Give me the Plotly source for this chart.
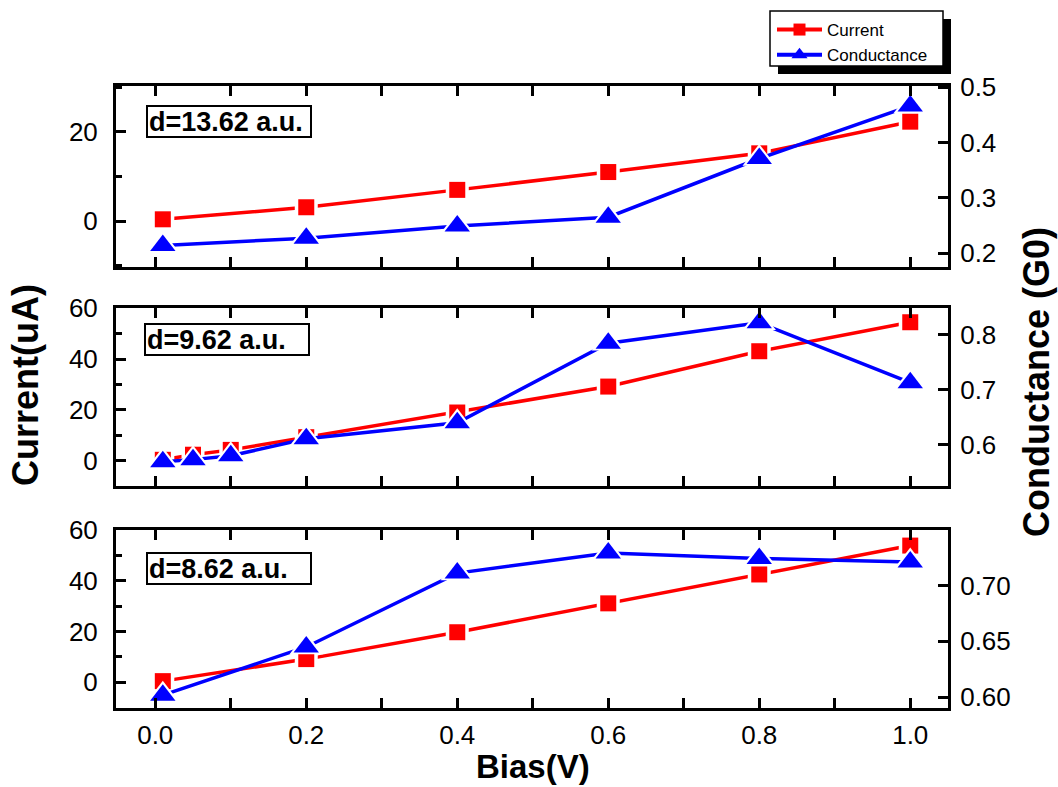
import plotly.graph_objects as go

# Bias sweep results for three electrode separations
bias_a = [0.01, 0.2, 0.4, 0.6, 0.8, 1.0]
current_a = [0.4, 3.1, 7.0, 11.0, 15.2, 22.3]
cond_a = [0.214, 0.227, 0.249, 0.265, 0.371, 0.466]

bias_b = [0.01, 0.05, 0.1, 0.2, 0.4, 0.6, 0.8, 1.0]
current_b = [0.4, 2.4, 4.3, 9.3, 19.0, 29.2, 43.1, 54.5]
cond_b = [0.569, 0.573, 0.580, 0.611, 0.640, 0.785, 0.822, 0.713]

bias_c = [0.01, 0.2, 0.4, 0.6, 0.8, 1.0]
current_c = [0.4, 9.1, 19.7, 31.1, 42.5, 53.9]
cond_c = [0.602, 0.645, 0.711, 0.729, 0.724, 0.721]

panel_labels = ["d=13.62 a.u.", "d=9.62 a.u.", "d=8.62 a.u."]

W, H = 1058, 787
RED, BLUE = "#ff0000", "#0000ff"
FONT = "Liberation Sans"


def px(x):
    return x / W


def py(y):
    return 1 - y / H


# panel frames in pixels (left, right, top, bottom)
X0, X1 = 116, 948
panels = [(86, 267), (308, 486), (530, 708)]

fig = go.Figure()


def add_series(xs, ys, color, symbol, size, yref_name, xref_name):
    # connecting line
    fig.add_trace(go.Scatter(x=xs, y=ys, mode="lines", xaxis=xref_name, yaxis=yref_name,
                             line=dict(color=color, width=3.5), showlegend=False, hoverinfo="skip"))
    # white halo around each symbol leaves a gap in the line
    fig.add_trace(go.Scatter(x=xs, y=ys, mode="markers", xaxis=xref_name, yaxis=yref_name,
                             marker=dict(symbol=symbol, size=size + 7, color="white"),
                             showlegend=False, hoverinfo="skip"))
    fig.add_trace(go.Scatter(x=xs, y=ys, mode="markers", xaxis=xref_name, yaxis=yref_name,
                             marker=dict(symbol=symbol, size=size, color=color),
                             showlegend=False))


data = [
    (bias_a, current_a, cond_a),
    (bias_b, current_b, cond_b),
    (bias_c, current_c, cond_c),
]

for i, (bx, cur, cond) in enumerate(data):
    xa = "x" if i == 0 else f"x{i + 1}"
    yl = "y" if i == 0 else f"y{2 * i + 1}"
    yr = f"y{2 * i + 2}"
    add_series(bx, cur, RED, "square", 16, yl, xa)
    add_series(bx, cond, BLUE, "triangle-up", 22, yr, xa)

# legend entries
fig.add_trace(go.Scatter(x=[None], y=[None], mode="lines+markers", name="Current",
                         line=dict(color=RED, width=4),
                         marker=dict(symbol="square", size=12, color=RED)))
fig.add_trace(go.Scatter(x=[None], y=[None], mode="lines+markers", name="Conductance",
                         line=dict(color=BLUE, width=4),
                         marker=dict(symbol="triangle-up", size=14, color=BLUE)))

tickfont = dict(family=FONT, size=26, color="black")
common_axis = dict(showline=True, linewidth=3, linecolor="black", ticks="inside",
                   tickwidth=3, tickcolor="black", ticklen=9, showgrid=False,
                   zeroline=False, tickfont=tickfont, automargin=False)

left_ranges = [[-10.3, 30.3], [-9.9, 60.1], [-10.2, 60.05]]
right_ranges = [[0.175, 0.502], [0.525, 0.849], [0.5905, 0.7495]]
right_dtick = [0.1, 0.1, 0.05]
right_fmt = [".1f", ".1f", ".2f"]

layout = dict(
    template="none",
    width=W, height=H, margin=dict(l=0, r=0, t=0, b=0, pad=0, autoexpand=False),
    paper_bgcolor="white", plot_bgcolor="white",
    font=dict(family=FONT, color="black"),
)

for i, (top, bot) in enumerate(panels):
    ydom = [py(bot), py(top)]
    xkey = "xaxis" if i == 0 else f"xaxis{i + 1}"
    ylkey = "yaxis" if i == 0 else f"yaxis{2 * i + 1}"
    yrkey = f"yaxis{2 * i + 2}"
    yl_id = "y" if i == 0 else f"y{2 * i + 1}"
    x_id = "x" if i == 0 else f"x{i + 1}"
    layout[xkey] = dict(common_axis, domain=[px(X0), px(X1)], anchor=yl_id,
                        range=[-0.052, 1.050], tick0=0, dtick=0.2, tickformat=".1f",
                        mirror="allticks", ticklen=10,
                        minor=dict(dtick=0.1, ticklen=6, tickwidth=3, tickcolor="black",
                                   ticks="inside"),
                        showticklabels=(i == 2), ticklabelstandoff=2)
    layout[ylkey] = dict(common_axis, domain=ydom, anchor=x_id, range=left_ranges[i],
                         tick0=0, dtick=20, ticklen=10,
                         minor=dict(dtick=10, ticklen=6, tickwidth=3, tickcolor="black",
                                    ticks="inside"),
                         ticklabelstandoff=10)
    layout[yrkey] = dict(common_axis, domain=ydom, anchor=x_id, overlaying=yl_id,
                         side="right", range=right_ranges[i], tick0=0,
                         dtick=right_dtick[i], tickformat=right_fmt[i], ticklen=10,
                         ticklabelstandoff=4)

annotations = []
label_boxes = [(146, 105), (144, 323), (146, 552)]
for (lx, ly), text in zip(label_boxes, panel_labels):
    annotations.append(dict(
        xref="paper", yref="paper", x=px(lx), y=py(ly), xanchor="left", yanchor="top",
        text=f"<b>{text}</b>", showarrow=False, align="left", width=160, height=27,
        bordercolor="black", borderwidth=2, borderpad=1, bgcolor="white",
        font=dict(family=FONT, size=27, color="black")))

annotations.append(dict(xref="paper", yref="paper", x=px(25), y=py(385),
                        xanchor="center", yanchor="middle",
                        text="<b>Current(uA)</b>", textangle=-90, showarrow=False,
                        font=dict(family=FONT, size=36, color="black")))
annotations.append(dict(xref="paper", yref="paper", x=px(1036), y=py(382),
                        xanchor="center", yanchor="middle",
                        text="<b>Conductance (G0)</b>", textangle=-90, showarrow=False,
                        font=dict(family=FONT, size=36, color="black")))
annotations.append(dict(xref="paper", yref="paper", x=px(533), y=py(766),
                        xanchor="center", yanchor="middle",
                        text="<b>Bias(V)</b>", showarrow=False,
                        font=dict(family=FONT, size=33, color="black")))

layout["annotations"] = annotations

# legend frame: drop shadow, then white box with black border
layout["shapes"] = [
    dict(type="rect", xref="paper", yref="paper",
         x0=px(778), x1=px(951), y0=py(74), y1=py(19),
         fillcolor="black", line=dict(width=0), layer="above"),
    dict(type="rect", xref="paper", yref="paper",
         x0=px(770), x1=px(943), y0=py(66), y1=py(11),
         fillcolor="white", line=dict(width=1.5, color="black"), layer="above"),
]

layout["legend"] = dict(x=px(772), y=py(12), xanchor="left", yanchor="top",
                        bgcolor="rgba(0,0,0,0)", borderwidth=0,
                        font=dict(family=FONT, size=17, color="black"),
                        tracegroupgap=0, itemwidth=45)

fig.update_layout(**layout)
fig.write_html("out.html")
